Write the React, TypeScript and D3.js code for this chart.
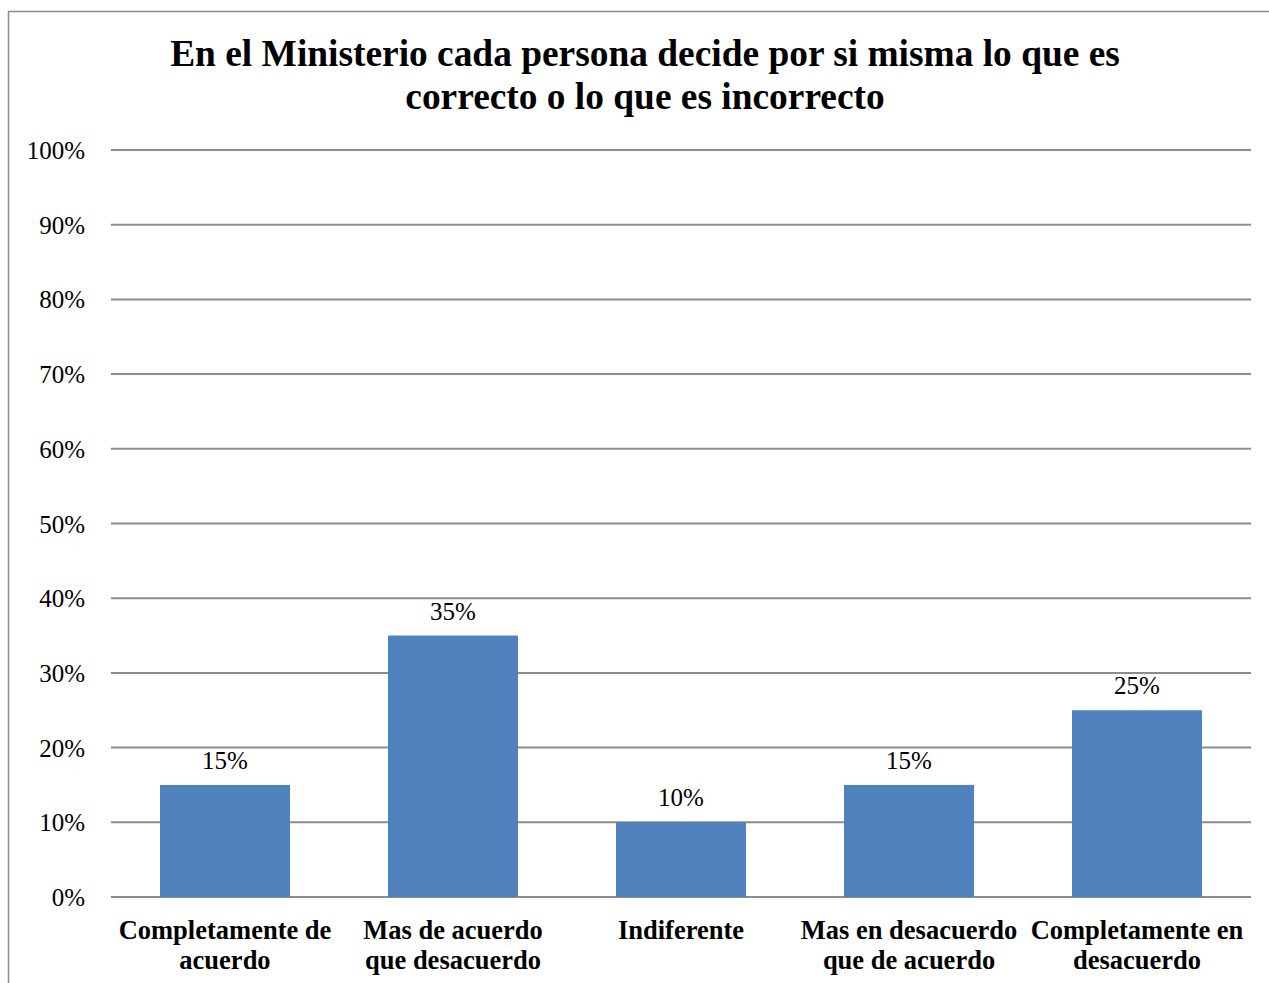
import React from "react";
import * as d3 from "d3";

const categories: string[][] = [
  ["Completamente de", "acuerdo"],
  ["Mas de acuerdo", "que desacuerdo"],
  ["Indiferente"],
  ["Mas en desacuerdo", "que de acuerdo"],
  ["Completamente en", "desacuerdo"],
];
const values = [15, 35, 10, 15, 25];
const yTicks = [0, 10, 20, 30, 40, 50, 60, 70, 80, 90, 100];
const titleLines = [
  "En el Ministerio cada persona decide por si misma lo que es",
  "correcto o lo que es incorrecto",
];

export default function App() {
  const W = 1269, H = 983;
  const left = 111, right = 1251, top = 150, bottom = 897;
  const font = "'Liberation Serif', 'Times New Roman', serif";
  const x = d3.scaleBand<number>().domain(d3.range(values.length)).range([left, right]).paddingInner(0.43).paddingOuter(0.215);
  const y = d3.scaleLinear().domain([0, 100]).range([bottom, top]);
  const xc = d3.scaleBand<number>().domain(d3.range(values.length)).range([left, right]);
  return (
    <svg width={W} height={H} style={{ position: "absolute", left: 0, top: 0, background: "#fff" }} fontFamily={font}>
      <line x1={8.5} y1={11} x2={8.5} y2={H} stroke="#8c8c8c" strokeWidth={1.5} />
      <line x1={8} y1={11.5} x2={W} y2={11.5} stroke="#8c8c8c" strokeWidth={1.5} />
      {titleLines.map((t, i) => (
        <text key={i} x={645} y={66 + i * 43} textAnchor="middle" fontSize={37.4} fontWeight="bold" fill="#000">{t}</text>
      ))}
      {yTicks.map((t) => (
        <g key={t}>
          <line x1={left} x2={right} y1={y(t)} y2={y(t)} stroke="#8c8c8c" strokeWidth={2} />
          <text x={85} y={y(t) + 9} textAnchor="end" fontSize={25} fill="#000">{t}%</text>
        </g>
      ))}
      {values.map((v, i) => (
        <g key={i}>
          <rect x={x(i)} y={y(v)} width={x.bandwidth()} height={y(0) - y(v)} fill="#4F81BD" />
          <text x={(x(i) as number) + x.bandwidth() / 2} y={y(v) - 16} textAnchor="middle" fontSize={25} fill="#000">{v}%</text>
        </g>
      ))}
      {categories.map((lines, i) => (
        <text key={i} textAnchor="middle" fontSize={26.5} fontWeight="bold" fill="#000">
          {lines.map((l, j) => (
            <tspan key={j} x={(xc(i) as number) + xc.bandwidth() / 2} y={939 + j * 30}>{l}</tspan>
          ))}
        </text>
      ))}
    </svg>
  );
}
